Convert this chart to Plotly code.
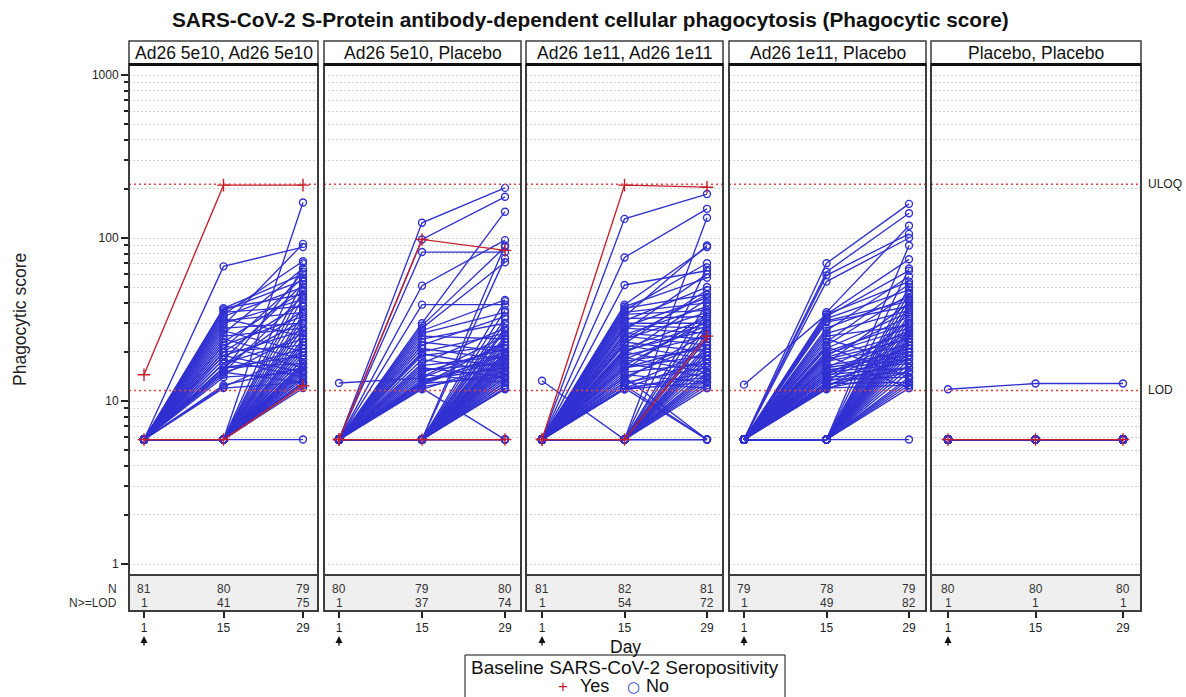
import math
import plotly.graph_objects as go

W, H = 1186, 697

TITLE = "SARS-CoV-2 S-Protein antibody-dependent cellular phagocytosis (Phagocytic score)"
PANELS = ["Ad26 5e10, Ad26 5e10", "Ad26 5e10, Placebo", "Ad26 1e11, Ad26 1e11",
          "Ad26 1e11, Placebo", "Placebo, Placebo"]
DAYS = [1, 15, 29]
DAY_LABELS = ["1", "15", "29"]
ULOQ = 214
LOD = 11.6
N_TOTAL = [[81, 80, 79], [80, 79, 80], [81, 82, 81], [79, 78, 79], [80, 80, 80]]
N_GE_LOD = [[1, 41, 75], [1, 37, 74], [1, 54, 72], [1, 49, 82], [1, 1, 1]]

# ---------------- Panel 1: Ad26 5e10, Ad26 5e10 ----------------
p1_yes_day1 = [14.5, 5.8]
p1_yes_day15 = [211, 5.8]
p1_yes_day29 = [211, 12.4]
p1_no_day1 = [5.8, 5.8, 5.8, 5.8, 5.8, 5.8, 5.8, 5.8, 5.8, 5.8,
              5.8, 5.8, 5.8, 5.8, 5.8, 5.8, 5.8, 5.8, 5.8, 5.8,
              5.8, 5.8, 5.8, 5.8, 5.8, 5.8, 5.8, 5.8, 5.8, 5.8,
              5.8, 5.8, 5.8, 5.8, 5.8, 5.8, 5.8, 5.8, 5.8, 5.8,
              5.8, 5.8, 5.8, 5.8, 5.8, 5.8, 5.8, 5.8, 5.8, 5.8,
              5.8, 5.8, 5.8, 5.8, 5.8, 5.8, 5.8, 5.8, 5.8, 5.8,
              5.8, 5.8, 5.8, 5.8, 5.8, 5.8, 5.8, 5.8, 5.8, 5.8,
              5.8, 5.8, 5.8, 5.8, 5.8, 5.8, 5.8, 5.8, 5.8]
p1_no_day15 = [67, 37, 37, 36, 35, 34, 33, 32, 31, 30,
               29, 28, 27, 26, 25, 24, 23, 22, 22, 21,
               20, 20, 19, 19, 18, 18, 17, 17, 16, 16,
               16, 15.5, 15, 15, 15, 14.5, 14, 12.2, 12, 12.5,
               5.8, 5.8, 5.8, 5.8, 5.8, 5.8, 5.8, 5.8, 5.8, 5.8,
               5.8, 5.8, 5.8, 5.8, 5.8, 5.8, 5.8, 5.8, 5.8, 5.8,
               5.8, 5.8, 5.8, 5.8, 5.8, 5.8, 5.8, 5.8, 5.8, 5.8,
               5.8, 5.8, 5.8, 5.8, 5.8, 5.8, 5.8, 5.8, 5.8]
p1_no_day29 = [88, 60, 45, 55, 38, 72, 50, 25, 35, 42,
               92, 30, 20, 65, 28, 18, 47, 33, 16, 57,
               22, 40, 15, 27, 52, 14, 24, 31, 19, 36,
               17, 62, 21, 44, 13, 26, 15, 20, 13, 16,
               165, 12, 12.5, 13, 13, 13.5, 14, 14, 14.5, 15,
               15, 15.5, 16, 16, 16.5, 17, 17, 18, 18, 19,
               20, 21, 22, 23, 24, 26, 28, 30, 32, 34,
               38, 43, 48, 54, 70, 12.8, None, 5.8, None]

# ---------------- Panel 2: Ad26 5e10, Placebo ----------------
p2_yes_day1 = [5.8, 5.8]
p2_yes_day15 = [98, 5.8]
p2_yes_day29 = [84, 5.8]
p2_no_day1 = [12.9, 5.8, 5.8, 5.8, 5.8, 5.8, 5.8, 5.8, 5.8, 5.8,
              5.8, 5.8, 5.8, 5.8, 5.8, 5.8, 5.8, 5.8, 5.8, 5.8,
              5.8, 5.8, 5.8, 5.8, 5.8, 5.8, 5.8, 5.8, 5.8, 5.8,
              5.8, 5.8, 5.8, 5.8, 5.8, 5.8, 5.8, 5.8, 5.8, 5.8,
              5.8, 5.8, 5.8, 5.8, 5.8, 5.8, 5.8, 5.8, 5.8, 5.8,
              5.8, 5.8, 5.8, 5.8, 5.8, 5.8, 5.8, 5.8, 5.8, 5.8,
              5.8, 5.8, 5.8, 5.8, 5.8, 5.8, 5.8, 5.8, 5.8, 5.8,
              5.8, 5.8, 5.8, 5.8, 5.8, 5.8, 5.8, 5.8]
p2_no_day15 = [13.8,
               124, 98, 82, 51, 39, 30, 29, 28, 27, 26,
               25, 24, 23, 22, 21, 20, 19.5, 19, 18, 17,
               16.5, 16, 15.5, 15, 14.5, 14, 13.5, 13, 12.8, 12.5,
               12.2, 12, 11.8, 12.6, 13.2,
               5.8, 5.8, 5.8, 5.8, 5.8, 5.8, 5.8, 5.8, 5.8, 5.8,
               5.8, 5.8, 5.8, 5.8, 5.8, 5.8, 5.8, 5.8, 5.8, 5.8,
               5.8, 5.8, 5.8, 5.8, 5.8, 5.8, 5.8, 5.8, 5.8, 5.8,
               5.8, 5.8, 5.8, 5.8, 5.8, 5.8, 5.8, 5.8, 5.8, 5.8,
               5.8, 5.8]
p2_no_day29 = [22,
               203, 179, 82, 97, 39, 145, 88, 71, 41.7, 35,
               24, 30, 20, 33, 18, 26, 16, 22, 15, 28,
               19, 14, 17, 21, 13, 25, 16, 18, 14, 20,
               15, 5.8, 17, 23, 19,
               90, 75, 41, 36, 30, 27, 25, 24, 23, 22,
               21, 20, 19.5, 19, 18.5, 18, 17.5, 17, 16.5, 16,
               16, 15.5, 15, 15, 14.5, 14, 14, 13.5, 13, 13,
               12.5, 12.5, 12, 12, 11.8, 28, 32, 5.8, 5.8, 5.8,
               5.8, None]

# ---------------- Panel 3: Ad26 1e11, Ad26 1e11 ----------------
p3_yes_day1 = [5.8, 5.8]
p3_yes_day15 = [211, 5.8]
p3_yes_day29 = [205, 25]
p3_no_day1 = [13.3, 5.8, 5.8, 5.8, 5.8, 5.8, 5.8, 5.8, 5.8, 5.8,
              5.8, 5.8, 5.8, 5.8, 5.8, 5.8, 5.8, 5.8, 5.8, 5.8,
              5.8, 5.8, 5.8, 5.8, 5.8, 5.8, 5.8, 5.8, 5.8, 5.8,
              5.8, 5.8, 5.8, 5.8, 5.8, 5.8, 5.8, 5.8, 5.8, 5.8,
              5.8, 5.8, 5.8, 5.8, 5.8, 5.8, 5.8, 5.8, 5.8, 5.8,
              5.8, 5.8, 5.8, 5.8, 5.8, 5.8, 5.8, 5.8, 5.8, 5.8,
              5.8, 5.8, 5.8, 5.8, 5.8, 5.8, 5.8, 5.8, 5.8, 5.8,
              5.8, 5.8, 5.8, 5.8, 5.8, 5.8, 5.8, 5.8, 5.8, 5.8]
p3_no_day15 = [5.8,
               131, 76, 51.5,
               39, 38, 37, 36, 35, 34, 33, 32, 31, 30,
               29, 28.5, 28, 27, 26, 25.5, 25, 24, 23, 22.5,
               22, 21, 20.5, 20, 19.5, 19, 18.5, 18, 17.5, 17,
               16.5, 16, 15.5, 15, 14.5, 14, 14, 13.5, 13, 13,
               12.5, 12.5, 12, 12, 12, 11.8, 11.8, 16, 20, 24,
               5.8, 5.8, 5.8, 5.8, 5.8, 5.8, 5.8, 5.8, 5.8, 5.8,
               5.8, 5.8, 5.8, 5.8, 5.8, 5.8, 5.8, 5.8, 5.8, 5.8,
               5.8, 5.8, 5.8, 5.8, 5.8, 5.8]
p3_no_day29 = [18,
               186, 151, 63,
               88, 57, 45, 70, 40, 36, 90, 33, 50, 30,
               28, 43, 26, 60, 24, 38, 22, 35, 20, 48,
               18, 32, 27, 16, 42, 25, 15, 29, 21, 14,
               31, 19, 34, 17, 13, 23, 5.8, 26, 16, 12,
               20, 5.8, 14, 5.8, 18, 13, 15, 22, 30, 45,
               133, 66, 40, 35, 30, 28, 26, 24, 22, 21,
               20, 19, 18, 17, 16, 15, 14.5, 14, 13.5, 13,
               12.5, 12, 5.8, 5.8, 5.8, None]

# ---------------- Panel 4: Ad26 1e11, Placebo ----------------
p4_yes_day1 = []
p4_yes_day15 = []
p4_yes_day29 = []
p4_no_day1 = [12.6, 5.8, 5.8, 5.8, 5.8, 5.8, 5.8, 5.8, 5.8, 5.8,
              5.8, 5.8, 5.8, 5.8, 5.8, 5.8, 5.8, 5.8, 5.8, 5.8,
              5.8, 5.8, 5.8, 5.8, 5.8, 5.8, 5.8, 5.8, 5.8, 5.8,
              5.8, 5.8, 5.8, 5.8, 5.8, 5.8, 5.8, 5.8, 5.8, 5.8,
              5.8, 5.8, 5.8, 5.8, 5.8, 5.8, 5.8, 5.8, 5.8, 5.8,
              5.8, 5.8, 5.8, 5.8, 5.8, 5.8, 5.8, 5.8, 5.8, 5.8,
              5.8, 5.8, 5.8, 5.8, 5.8, 5.8, 5.8, 5.8, 5.8, 5.8,
              5.8, 5.8, 5.8, 5.8, 5.8, 5.8, 5.8, 5.8, 5.8]
p4_no_day15 = [34,
               70, 62, 59, 54, 35, 34, 33, 32, 31, 30.5,
               23, 22, 21, 20, 19.5, 19, 18.5, 18, 17.5, 17,
               16.5, 16, 16, 15.5, 15, 15, 14.5, 14, 14, 13.5,
               13.5, 13, 13, 12.8, 12.5, 12.5, 12.2, 12, 12, 11.8,
               26, 25, 24, 28, 27, 21.5, 19, 14.5,
               5.8, 5.8, 5.8, 5.8, 5.8, 5.8, 5.8, 5.8, 5.8, 5.8,
               5.8, 5.8, 5.8, 5.8, 5.8, 5.8, 5.8, 5.8, 5.8, 5.8,
               5.8, 5.8, 5.8, 5.8, 5.8, 5.8, 5.8, 5.8, 5.8, 5.8]
p4_no_day29 = [54,
               162, 142, 106, 100, 119, 74, 63, 48, 41, 38,
               52, 45, 35, 30, 28, 33, 26, 24, 22, 40,
               20, 19, 27, 18, 21, 17, 16, 25, 15, 23,
               14, 31, 20, 13, 18, 16, 22, 15, 12.5, 19,
               36, 29, 17, 43, 58, 14, 12, 26,
               90, 65, 50, 46, 42, 39, 37, 34, 32, 30,
               28, 27, 26, 25, 24, 23, 22, 21, 20, 19,
               18, 17, 16, 15, 14, 13.5, 13, 12.5, 12, 5.8]

# ---------------- Panel 5: Placebo, Placebo ----------------
p5_yes_day1 = [5.8]
p5_yes_day15 = [5.8]
p5_yes_day29 = [5.8]
p5_no_day1 = [11.8, 5.8, 5.8, 5.8, 5.8, 5.8, 5.8, 5.8, 5.8, 5.8,
              5.8, 5.8, 5.8, 5.8, 5.8, 5.8, 5.8, 5.8, 5.8, 5.8,
              5.8, 5.8, 5.8, 5.8, 5.8, 5.8, 5.8, 5.8, 5.8, 5.8,
              5.8, 5.8, 5.8, 5.8, 5.8, 5.8, 5.8, 5.8, 5.8, 5.8,
              5.8, 5.8, 5.8, 5.8, 5.8, 5.8, 5.8, 5.8, 5.8, 5.8,
              5.8, 5.8, 5.8, 5.8, 5.8, 5.8, 5.8, 5.8, 5.8, 5.8,
              5.8, 5.8, 5.8, 5.8, 5.8, 5.8, 5.8, 5.8, 5.8, 5.8,
              5.8, 5.8, 5.8, 5.8, 5.8, 5.8, 5.8, 5.8, 5.8]
p5_no_day15 = [12.8, 5.8, 5.8, 5.8, 5.8, 5.8, 5.8, 5.8, 5.8, 5.8,
               5.8, 5.8, 5.8, 5.8, 5.8, 5.8, 5.8, 5.8, 5.8, 5.8,
               5.8, 5.8, 5.8, 5.8, 5.8, 5.8, 5.8, 5.8, 5.8, 5.8,
               5.8, 5.8, 5.8, 5.8, 5.8, 5.8, 5.8, 5.8, 5.8, 5.8,
               5.8, 5.8, 5.8, 5.8, 5.8, 5.8, 5.8, 5.8, 5.8, 5.8,
               5.8, 5.8, 5.8, 5.8, 5.8, 5.8, 5.8, 5.8, 5.8, 5.8,
               5.8, 5.8, 5.8, 5.8, 5.8, 5.8, 5.8, 5.8, 5.8, 5.8,
               5.8, 5.8, 5.8, 5.8, 5.8, 5.8, 5.8, 5.8, 5.8]
p5_no_day29 = [12.8, 5.8, 5.8, 5.8, 5.8, 5.8, 5.8, 5.8, 5.8, 5.8,
               5.8, 5.8, 5.8, 5.8, 5.8, 5.8, 5.8, 5.8, 5.8, 5.8,
               5.8, 5.8, 5.8, 5.8, 5.8, 5.8, 5.8, 5.8, 5.8, 5.8,
               5.8, 5.8, 5.8, 5.8, 5.8, 5.8, 5.8, 5.8, 5.8, 5.8,
               5.8, 5.8, 5.8, 5.8, 5.8, 5.8, 5.8, 5.8, 5.8, 5.8,
               5.8, 5.8, 5.8, 5.8, 5.8, 5.8, 5.8, 5.8, 5.8, 5.8,
               5.8, 5.8, 5.8, 5.8, 5.8, 5.8, 5.8, 5.8, 5.8, 5.8,
               5.8, 5.8, 5.8, 5.8, 5.8, 5.8, 5.8, 5.8, 5.8]

PANEL_DATA = [
    ((p1_no_day1, p1_no_day15, p1_no_day29), (p1_yes_day1, p1_yes_day15, p1_yes_day29)),
    ((p2_no_day1, p2_no_day15, p2_no_day29), (p2_yes_day1, p2_yes_day15, p2_yes_day29)),
    ((p3_no_day1, p3_no_day15, p3_no_day29), (p3_yes_day1, p3_yes_day15, p3_yes_day29)),
    ((p4_no_day1, p4_no_day15, p4_no_day29), (p4_yes_day1, p4_yes_day15, p4_yes_day29)),
    ((p5_no_day1, p5_no_day15, p5_no_day29), (p5_yes_day1, p5_yes_day15, p5_yes_day29)),
]

# ---------------- layout geometry (pixels) ----------------
BLUE = "#3131d2"
RED = "#c41f2a"
FRAME = "#3c3c3c"
FONT = "Liberation Sans, Arial, sans-serif"

LEFT = [129, 324, 526, 729, 931]
RIGHT = [318, 521, 723, 926, 1141]
PX_D1 = [144, 339, 542, 744, 948]
PX_D29 = [303, 505, 707, 909, 1123]
HEAD_TOP, PLOT_TOP, PLOT_BOT, TAB_BOT = 41, 64, 575, 611
Y1000, DEC = 75, 163


def px(x):
    return x / W


def py(y):
    return 1 - y / H


log_lo = 3 - (PLOT_BOT - Y1000) / DEC
log_hi = 3 + (Y1000 - PLOT_TOP) / DEC

MAJOR = [1, 10, 100, 1000]
MINOR = [2, 3, 4, 5, 6, 7, 8, 9, 20, 30, 40, 50, 60, 70, 80, 90,
         200, 300, 400, 500, 600, 700, 800, 900]

fig = go.Figure()


def build(day1, day15, day29):
    xs, ys = [], []
    for vals in zip(day1, day15, day29):
        for d, v in zip(DAYS, vals):
            xs.append(d if v is not None else None)
            ys.append(v)
        xs.append(None)
        ys.append(None)
    return xs, ys


layout = dict(
    width=W, height=H,
    margin=dict(l=0, r=0, t=0, b=0),
    paper_bgcolor="white", plot_bgcolor="rgba(0,0,0,0)",
    showlegend=False,
    font=dict(family=FONT, color="#222", size=12),
)
shapes = []
annotations = []

for i, (no_grp, yes_grp) in enumerate(PANEL_DATA):
    k = i + 1
    kt = i + 6
    xa, ya = ("x" if k == 1 else f"x{k}"), ("y" if k == 1 else f"y{k}")
    xt, yt = f"x{kt}", f"y{kt}"

    for grp, color, symbol, msize in [(no_grp, BLUE, "circle-open", 7),
                                       (yes_grp, RED, "cross-thin-open", 9)]:
        xs, ys = build(*grp)
        fig.add_trace(go.Scatter(
            x=xs, y=ys, xaxis=xa, yaxis=ya, mode="lines+markers",
            line=dict(color=color, width=1.35),
            marker=dict(symbol=symbol, size=msize, color=color,
                        line=dict(color=color, width=1.4)),
            hoverinfo="skip", showlegend=False, cliponaxis=False))

    scale = (PX_D29[i] - PX_D1[i]) / (DAYS[-1] - DAYS[0])
    xr = [DAYS[0] - (PX_D1[i] - LEFT[i]) / scale, DAYS[-1] + (RIGHT[i] - PX_D29[i]) / scale]
    dom = [px(LEFT[i]), px(RIGHT[i])]
    first = (k == 1)

    layout[f"xaxis{k}"] = dict(domain=dom, range=xr, anchor=ya, showgrid=False,
                               zeroline=False, showline=False, showticklabels=False,
                               ticks="", fixedrange=True)
    layout[f"yaxis{k}"] = dict(
        domain=[py(PLOT_BOT), py(PLOT_TOP)], range=[log_lo, log_hi], type="log",
        anchor=xa, tickvals=MAJOR, ticktext=[str(v) for v in MAJOR],
        showticklabels=first, ticks="outside" if first else "", ticklen=7,
        tickwidth=1.5, tickcolor="#222", tickfont=dict(size=12, color="#222"),
        showgrid=True, gridcolor="#d2d2d2", griddash="2px,2px", gridwidth=1,
        zeroline=False, showline=False, fixedrange=True,
        minor=dict(tickvals=MINOR, ticks="outside" if first else "", ticklen=4,
                   tickwidth=1.5, tickcolor="#222", showgrid=True,
                   gridcolor="#d2d2d2", griddash="2px,2px", gridwidth=1),
    )
    layout[f"xaxis{kt}"] = dict(domain=dom, range=xr, anchor=yt, showgrid=False,
                                zeroline=False, showline=False, tickvals=DAYS,
                                ticktext=DAY_LABELS, ticks="outside", ticklen=6,
                                tickwidth=1.5, tickcolor="#222",
                                tickfont=dict(size=12, color="#222"), fixedrange=True)
    layout[f"yaxis{kt}"] = dict(domain=[py(TAB_BOT), py(PLOT_BOT)], range=[0, 1],
                                anchor=xt, visible=False, fixedrange=True)

    # reference lines (ULOQ, LOD)
    for ref in (ULOQ, LOD):
        shapes.append(dict(type="line", xref=f"{xa} domain", x0=0, x1=1, yref=ya,
                           y0=ref, y1=ref, line=dict(color="#e8423c", width=1.5, dash="2px,3px"),
                           layer="above"))
    # frames
    shapes.append(dict(type="rect", xref="paper", yref="paper",
                       x0=px(LEFT[i]), x1=px(RIGHT[i]), y0=py(PLOT_BOT), y1=py(TAB_BOT),
                       fillcolor="#efefef", line=dict(color=FRAME, width=2), layer="above"))
    shapes.append(dict(type="rect", xref="paper", yref="paper",
                       x0=px(LEFT[i]), x1=px(RIGHT[i]), y0=py(PLOT_BOT), y1=py(PLOT_TOP),
                       line=dict(color=FRAME, width=2), layer="above"))
    shapes.append(dict(type="rect", xref="paper", yref="paper",
                       x0=px(LEFT[i]), x1=px(RIGHT[i]), y0=py(PLOT_TOP), y1=py(HEAD_TOP),
                       fillcolor="white", line=dict(color=FRAME, width=1.5), layer="above"))
    shapes.append(dict(type="line", xref="paper", yref="paper",
                       x0=px(LEFT[i]), x1=px(RIGHT[i]), y0=py(PLOT_TOP + 0.5), y1=py(PLOT_TOP + 0.5),
                       line=dict(color="#111", width=3), layer="above"))

    # panel header
    annotations.append(dict(text=PANELS[i], xref="paper", yref="paper",
                            x=(px(LEFT[i]) + px(RIGHT[i])) / 2, y=py((HEAD_TOP + PLOT_TOP) / 2),
                            xanchor="center", yanchor="middle", showarrow=False,
                            font=dict(size=17.5, color="#111")))
    # N table
    for d, n, m in zip(DAYS, N_TOTAL[i], N_GE_LOD[i]):
        annotations.append(dict(text=str(n), xref=xt, yref=yt, x=d, y=0.62,
                                xanchor="center", yanchor="middle", showarrow=False,
                                font=dict(size=12, color="#333")))
        annotations.append(dict(text=str(m), xref=xt, yref=yt, x=d, y=0.23,
                                xanchor="center", yanchor="middle", showarrow=False,
                                font=dict(size=12, color="#333")))
    # vaccination arrow under day 1
    annotations.append(dict(text="", xref=xt, yref="paper", x=DAYS[0], y=py(636),
                            ax=0, ay=11, showarrow=True, arrowhead=2, arrowsize=1,
                            arrowwidth=1.4, arrowcolor="#111", standoff=0))

# row labels of the N table
annotations.append(dict(text="N", xref="paper", yref="y6", x=px(119), y=0.62,
                        xanchor="right", yanchor="middle", showarrow=False,
                        font=dict(size=12, color="#333")))
annotations.append(dict(text="N>=LOD", xref="paper", yref="y6", x=px(119), y=0.23,
                        xanchor="right", yanchor="middle", showarrow=False,
                        font=dict(size=12, color="#333")))
# ULOQ / LOD labels
annotations.append(dict(text="ULOQ", xref="paper", yref="y5", x=px(1146), y=math.log10(ULOQ),
                        xanchor="left", yanchor="middle", showarrow=False,
                        font=dict(size=12, color="#222")))
annotations.append(dict(text="LOD", xref="paper", yref="y5", x=px(1146), y=math.log10(LOD),
                        xanchor="left", yanchor="middle", showarrow=False,
                        font=dict(size=12, color="#222")))
# title & axis titles
annotations.append(dict(text="<b>" + TITLE + "</b>", xref="paper", yref="paper",
                        x=px(590), y=py(20), xanchor="center", yanchor="middle",
                        showarrow=False, font=dict(size=20.8, color="#111")))
annotations.append(dict(text="Phagocytic score", xref="paper", yref="paper",
                        x=px(20), y=py(320), xanchor="center", yanchor="middle",
                        textangle=-90, showarrow=False, font=dict(size=17.5, color="#222")))
annotations.append(dict(text="Day", xref="paper", yref="paper",
                        x=px(625), y=py(647), xanchor="center", yanchor="middle",
                        showarrow=False, font=dict(size=17.5, color="#111")))

# legend box (drawn manually so entries are centred like the original)
shapes.append(dict(type="rect", xref="paper", yref="paper", x0=px(465), x1=px(785),
                   y0=py(705), y1=py(655), fillcolor="white",
                   line=dict(color="#111", width=1), layer="above"))
annotations.append(dict(text="Baseline SARS-CoV-2 Seropositivity", xref="paper", yref="paper",
                        x=px(625), y=py(667), xanchor="center", yanchor="middle",
                        showarrow=False, font=dict(size=19, color="#111")))
LEG_ROW = dict(xref="paper", yref="paper", y=py(697), yanchor="bottom", showarrow=False,
               borderpad=0)
annotations.append(dict(text="+", x=px(563), xanchor="center",
                        font=dict(size=17, color=RED), **LEG_ROW))
annotations.append(dict(text="Yes", x=px(579), xanchor="left",
                        font=dict(size=18, color="#111"), **LEG_ROW))
annotations.append(dict(text="○", x=px(633), xanchor="center",
                        font=dict(size=15, color=BLUE, family="DejaVu Sans"), **LEG_ROW))
annotations.append(dict(text="No", x=px(645), xanchor="left",
                        font=dict(size=18, color="#111"), **LEG_ROW))

layout["shapes"] = shapes
layout["annotations"] = annotations
fig.update_layout(**layout)
fig.write_html("out.html", config={"displayModeBar": False},
               post_script="document.body.style.margin='0';document.body.style.overflow='hidden';")
